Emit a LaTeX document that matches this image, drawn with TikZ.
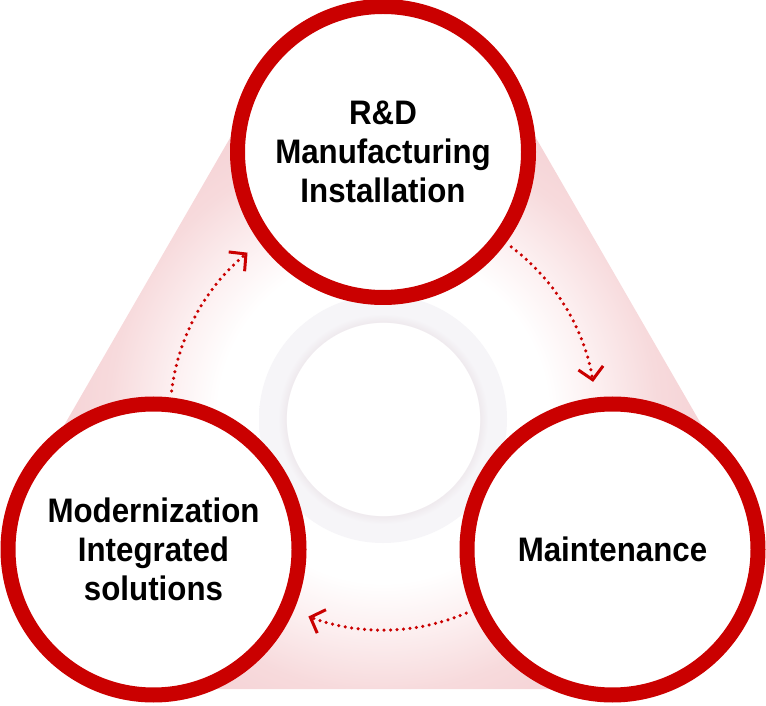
\documentclass[tikz,border=0pt]{standalone}
\usepackage{fontspec}
\setmainfont{Liberation Sans}[FakeStretch=0.92]
\usepackage{tikz}
\usetikzlibrary{arrows.meta, calc}
\definecolor{cyclered}{RGB}{202,0,0}
\definecolor{glowlight}{RGB}{252,239,240}
\definecolor{glowmid}{RGB}{247,218,220}
\definecolor{glow}{RGB}{245,210,213}
\definecolor{ringgrey}{RGB}{246,245,248}
\definecolor{ringshade}{RGB}{239,234,238}
\pgfdeclareradialshading{bgglow}{\pgfpoint{0bp}{0bp}}{color(0bp)=(white); color(11.5bp)=(white); color(15bp)=(glowlight); color(19.1bp)=(glowmid); color(22.9bp)=(glow); color(50bp)=(glow)}
\pgfdeclareradialshading{ringglow}{\pgfpoint{0bp}{0bp}}{color(0bp)=(white); color(19.45bp)=(white); color(19.56bp)=(ringshade); color(21.2bp)=(ringgrey); color(50bp)=(ringgrey)}

\begin{document}
\begin{tikzpicture}[x=1pt, y=1pt,
  stage/.style={circle, draw=cyclered, line width=15pt, fill=white, minimum size=291pt,
    inner sep=0pt, align=center, font=\fontsize{34}{39}\selectfont\bfseries},
  flow/.style={cyclered, line width=3.5pt, line cap=round, dash pattern=on 0pt off 6.5pt,
    -{Straight Barb[length=12pt, width=25pt, line width=3pt, line cap=butt]}}]
\useasboundingbox (0,0) rectangle (766,705);
\coordinate (c) at (383,288);
\coordinate (ptop) at ($(c)+(90:265)$);
\coordinate (pleft) at ($(c)+(210:265)$);
\coordinate (pright) at ($(c)+(330:265)$);
\begin{scope}
\clip ($(ptop)+(30:139.5)$) -- ($(ptop)+(150:139.5)$) -- ($(pleft)+(150:139.5)$) -- ($(pleft)+(270:139.5)$)
  -- ($(pright)+(270:139.5)$) -- ($(pright)+(30:139.5)$) -- cycle;
\shade[shading=bgglow] (c) circle (360);
\end{scope}
\shade[shading=ringglow] ($(c)+(0,-2)$) circle (124);
\node[stage] (rd) at (ptop) {R\&D\\Manufacturing\\Installation};
\node[stage] (mnt) at (pright) {Maintenance};
\node[stage] (mod) at (pleft) {Modernization\\Integrated\\solutions};
\foreach \a in {151,31,271}
  \draw[flow] ($(c)+(\a+22:213)$) arc[start angle=\a+22, end angle=\a-21.5, radius=213];
\end{tikzpicture}
\end{document}
